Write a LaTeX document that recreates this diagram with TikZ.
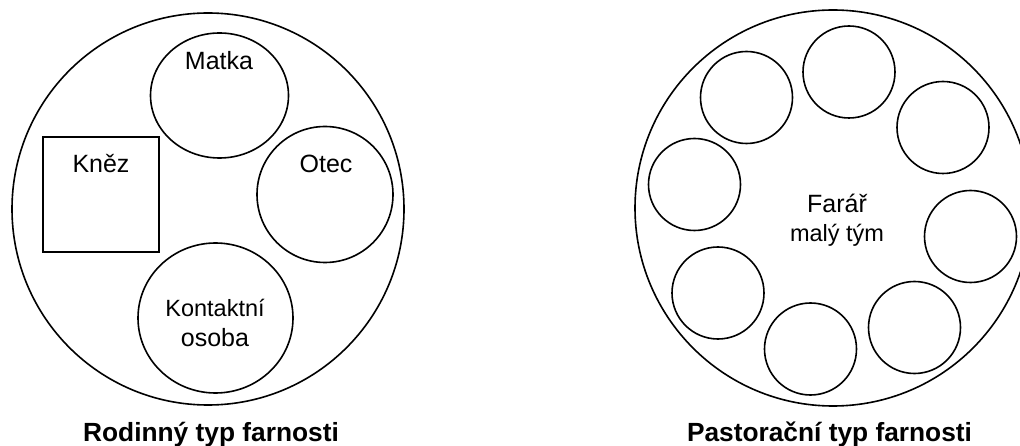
\documentclass[tikz,border=0pt]{standalone}
\usepackage{fontspec}
\setmainfont{Liberation Sans}
\usetikzlibrary{shapes.geometric}
\tikzset{
  ring/.style={draw=black, line width=1.6pt, circle, inner sep=0pt, outer sep=0pt},
  oval/.style={draw=black, line width=1.6pt, ellipse, inner sep=0pt, outer sep=0pt},
  sq/.style={draw=black, line width=1.6pt, rectangle, inner sep=0pt, outer sep=0pt},
  lbl/.style={anchor=base, inner sep=0pt, font=\fontsize{25}{30}\selectfont},
  sml/.style={anchor=base, inner sep=0pt, font=\fontsize{23.5}{28}\selectfont},
  ttl/.style={anchor=base, inner sep=0pt, font=\fontsize{26.3}{30}\selectfont\bfseries}
}
\begin{document}
\begin{tikzpicture}[x=1pt, y=-1pt]
\useasboundingbox (0,0) rectangle (1020,446);
% left diagram
\node[ring, minimum size=392pt] (bigL) at (208,209) {};
\node[oval, minimum width=138pt, minimum height=125pt] (matka) at (219.5,95.5) {};
\node[ring, minimum size=136pt] (otec) at (325,194.5) {};
\node[oval, minimum width=155pt, minimum height=150pt] (kontakt) at (215.5,318) {};
\node[sq, minimum width=116pt, minimum height=115pt] (knez) at (101,194.5) {};
\node[lbl] (tmatka) at (219,70) {Matka};
\node[lbl] (totec) at (326,173) {Otec};
\node[lbl] (tknez) at (101,173) {Kněz};
\node[sml] (tkon1) at (215,316.5) {Kontaktní};
\node[lbl] (tkon2) at (215,346.5) {osoba};
\node[ttl] (titleL) at (211,441.5) {Rodinný typ farnosti};
% right diagram
\node[ring, minimum size=396pt] (bigR) at (833,208) {};
\node[ring, minimum size=92pt] (c1) at (849,72) {};
\node[ring, minimum size=92pt] (c2) at (746.5,97.5) {};
\node[ring, minimum size=92pt] (c3) at (943,127.5) {};
\node[ring, minimum size=92pt] (c4) at (694.5,184.5) {};
\node[ring, minimum size=92pt] (c5) at (970.5,236.5) {};
\node[ring, minimum size=92pt] (c6) at (718,293) {};
\node[ring, minimum size=92pt] (c7) at (914.5,327.5) {};
\node[ring, minimum size=92pt] (c8) at (810.5,349) {};
\node[lbl] (tfarar) at (837,213) {Farář};
\node[sml] (ttym) at (837,241.5) {malý tým};
\node[ttl] (titleR) at (829.5,441.5) {Pastorační typ farnosti};
\end{tikzpicture}
\end{document}
